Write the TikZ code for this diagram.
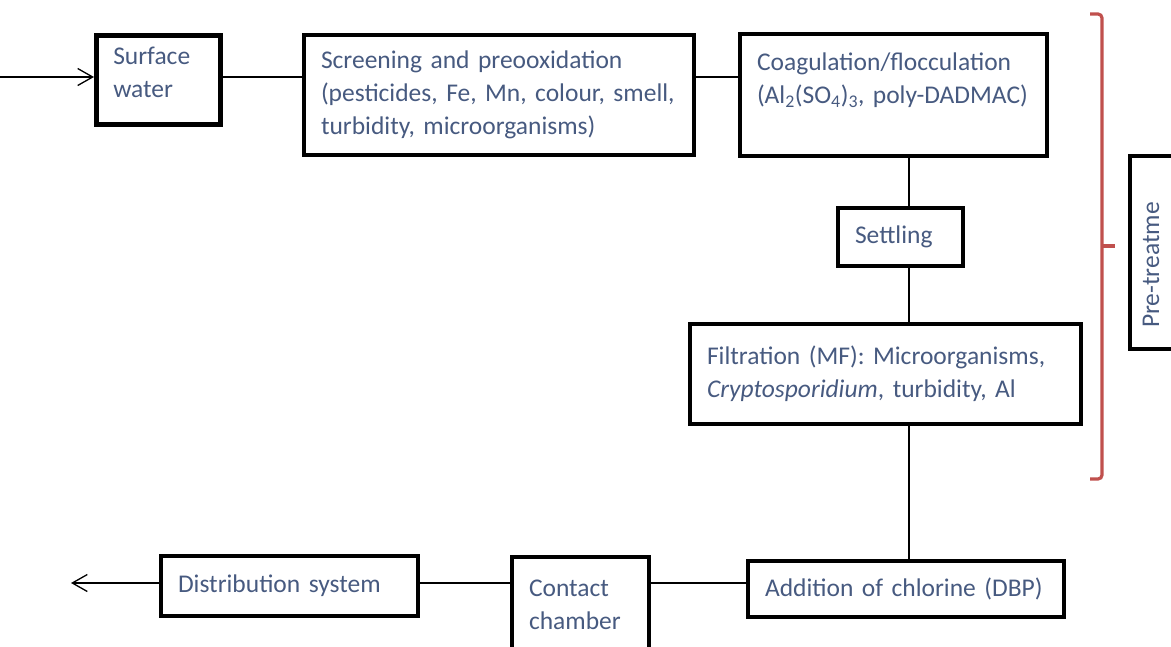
\documentclass[tikz,border=0pt]{standalone}
\usepackage{fontspec}
\setmainfont{Carlito}[WordSpace=0.75]
\usetikzlibrary{arrows.meta,positioning,calc}
\definecolor{Ink}{HTML}{000000}
\definecolor{TextBlue}{HTML}{475A80}
\definecolor{BraceRed}{HTML}{C0504D}

\begin{document}
\begin{tikzpicture}[
  x=1pt, y=-1pt,
  box/.style={draw=Ink, line width=4.5pt, align=left, font=\fontsize{25.5}{33}\selectfont, text=TextBlue, inner xsep=17pt, inner ysep=0pt},
  arr/.style={-{Straight Barb[length=15pt, width=17pt]}, Ink, line width=1.3pt},
  link/.style={Ink, line width=1.3pt},
  bracket/.style={BraceRed, line width=3.2pt, rounded corners=4pt}
]
\clip (0,0) rectangle (1171,646);

% treatment train
\node[box, minimum height=89pt, text width=90pt] (surf) at (158.25,80) {Surface\\water\\[-18pt]~};
\node[box, minimum height=120pt, text width=356pt] (screen) at (499,95) {Screening and preooxidation\\(pesticides, Fe, Mn, colour, smell,\\turbidity, microorganisms)};
\node[box, minimum height=122pt, text width=273pt] (coag) at (893.5,95) {Coagulation/flocculation\\(Al\textsubscript{2}(SO\textsubscript{4})\textsubscript{3}, poly-DADMAC)\\~};
\node[box, minimum height=58pt, text width=91pt] (settle) at (900.5,237) {Settling};
\node[box, minimum height=100pt, text width=357pt] (filt) at (885.5,374) {Filtration (MF): Microorganisms,\\\textit{Cryptosporidium}, turbidity, Al};
\node[box, minimum height=56pt, text width=282pt] (chlor) at (906,589) {Addition of chlorine (DBP)};
\node[box, minimum height=95pt, text width=103pt] (contact) at (580.5,604.5) {Contact\\chamber};
\node[box, minimum height=60pt, text width=223pt] (distr) at (289.5,586) {Distribution system};

% pre-treatment label
\node[box, minimum height=193pt, minimum width=80pt] (pre) at (1170,252.5) {};
\node[text=TextBlue, font=\fontsize{25.5}{33}\selectfont, rotate=90, anchor=west, inner sep=0pt] (pretext) at (1151,328) {Pre-treatme};
\draw[bracket] (1090,14) -- (1102,14) -- (1102,479) -- (1090,479);
\draw[bracket, rounded corners=0pt] (1102,246) -- (1115,246);

% connectors
\coordinate (inp) at (0,77);
\coordinate (outp) at (71,583);
\coordinate (stem) at (909,0);
\coordinate (low) at (0,583);
\draw[arr] (inp) -- (inp -| surf.west);
\draw[link] (surf.east |- inp) -- (screen.west |- inp);
\draw[link] (screen.east |- inp) -- (coag.west |- inp);
\draw[link] (coag.south -| stem) -- (settle.north -| stem);
\draw[link] (settle.south -| stem) -- (filt.north -| stem);
\draw[link] (filt.south -| stem) -- (chlor.north -| stem);
\draw[link] (chlor.west |- low) -- (contact.east |- low);
\draw[link] (contact.west |- low) -- (distr.east |- low);
\draw[arr] (distr.west |- low) -- (outp);
\end{tikzpicture}
\end{document}
